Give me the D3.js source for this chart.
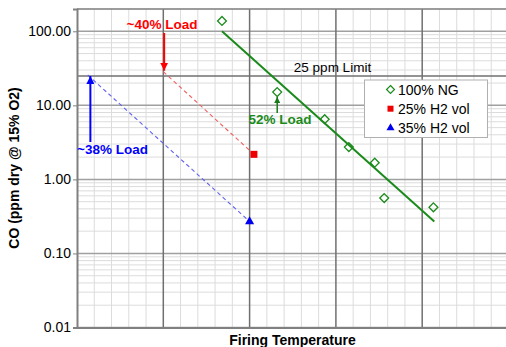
<!DOCTYPE html>
<html><head><meta charset="utf-8">
<script src="https://cdn.jsdelivr.net/npm/d3@7"></script>
<style>body{margin:0;background:#fff}svg{display:block;font-family:Arial,"Liberation Sans",sans-serif}</style>
</head><body><svg id="c" width="506" height="347"></svg>
<script>
// data (x in arbitrary firing-temperature units, y = CO ppm)
const ngX = [1.68, 2.32, 2.87, 3.15, 3.45, 3.56, 4.13];
const ngY = [138, 15.1, 6.5, 2.73, 1.68, 0.56, 0.42];
const ngTrendX = [1.68, 4.14];
const ngTrendY = [100, 0.27];
const h25X = [2.05];
const h25Y = [2.18];
const h25LineX = [1.0, 2.05];
const h25LineY = [28.5, 2.18];
const h35X = [2.0];
const h35Y = [0.27];
const h35LineX = [0.124, 2.0];
const h35LineY = [25.7, 0.27];
const limit = 25;
const yTicks = [0.01, 0.1, 1, 10, 100];
const legendLabels = ["100% NG", "25% H2 vol", "35% H2 vol"];

const svg = d3.select("#c");
const L = 77, R = 508.5, T = 9, B = 327.5;
const x = d3.scaleLinear().domain([0, 5]).range([L, R]);
const y = d3.scaleLog().domain([0.01, 200]).range([B, T]);

const g = svg.append("g");
const minorX = d3.range(0, 5.001, 0.2).filter(v => Math.abs(v - Math.round(v)) > 1e-6);
g.selectAll(".mvx").data(minorX).join("line")
  .attr("x1", d => x(d)).attr("x2", d => x(d)).attr("y1", T).attr("y2", B)
  .attr("stroke", "#dcdcdc").attr("stroke-width", 1);
const minorY = [];
[0.01, 0.1, 1, 10, 100].forEach(dec => { for (let k = 2; k <= 9; k++) { const v = dec * k; if (v <= 200) minorY.push(v); } });
g.selectAll(".mhy").data(minorY).join("line")
  .attr("x1", L).attr("x2", R).attr("y1", d => y(d)).attr("y2", d => y(d))
  .attr("stroke", "#dcdcdc").attr("stroke-width", 1);
g.selectAll(".My").data(yTicks).join("line")
  .attr("x1", L).attr("x2", R).attr("y1", d => y(d)).attr("y2", d => y(d))
  .attr("stroke", "#a0a0a0").attr("stroke-width", 1.5);
g.selectAll(".Mx").data([1, 2, 3, 4]).join("line")
  .attr("x1", d => x(d)).attr("x2", d => x(d)).attr("y1", T).attr("y2", B)
  .attr("stroke", "#707070").attr("stroke-width", 1.5);
g.append("line").attr("x1", L).attr("x2", R).attr("y1", T).attr("y2", T).attr("stroke", "#808080").attr("stroke-width", 1.5);
g.append("line").attr("x1", L).attr("x2", R).attr("y1", y(limit)).attr("y2", y(limit))
  .attr("stroke", "#707070").attr("stroke-width", 1.5);

const yAxis = d3.axisLeft(y).tickValues(yTicks).tickFormat(d3.format(".2f")).tickSize(4).tickPadding(2);
const ya = svg.append("g").attr("transform", `translate(${L},0)`).call(yAxis);
ya.select(".domain").attr("stroke", "#808080").attr("stroke-width", 2);
ya.selectAll(".tick line").attr("stroke", "#808080");
ya.selectAll("text").attr("font-size", 14).attr("fill", "#000");
const xAxis = d3.axisBottom(x).tickValues([]).tickSizeOuter(0);
const xa = svg.append("g").attr("transform", `translate(0,${B})`).call(xAxis);
xa.select(".domain").attr("stroke", "#808080").attr("stroke-width", 2);

const line = d3.line().x(d => x(d[0])).y(d => y(d[1]));
svg.append("path").attr("d", line(d3.zip(h25LineX, h25LineY))).attr("fill", "none")
  .attr("stroke", "#f06060").attr("stroke-width", 1.1).attr("stroke-dasharray", "4,3");
svg.append("path").attr("d", line(d3.zip(h35LineX, h35LineY))).attr("fill", "none")
  .attr("stroke", "#6060f0").attr("stroke-width", 1.1).attr("stroke-dasharray", "4,3");
svg.append("path").attr("d", line(d3.zip(ngTrendX, ngTrendY))).attr("fill", "none")
  .attr("stroke", "#1a8a1a").attr("stroke-width", 2);

const diamond = d3.symbol().type(d3.symbolDiamond2).size(50);
svg.selectAll(".ng").data(d3.zip(ngX, ngY)).join("path")
  .attr("d", diamond).attr("transform", d => `translate(${x(d[0])},${y(d[1])})`)
  .attr("fill", "none").attr("stroke", "#1a8a1a").attr("stroke-width", 1.3);
svg.selectAll(".h25").data(d3.zip(h25X, h25Y)).join("rect")
  .attr("x", d => x(d[0]) - 3.5).attr("y", d => y(d[1]) - 3.5).attr("width", 7).attr("height", 7).attr("fill", "#ee0000");
const tri = d3.symbol().type(d3.symbolTriangle).size(36);
svg.selectAll(".h35").data(d3.zip(h35X, h35Y)).join("path")
  .attr("d", tri).attr("transform", d => `translate(${x(d[0])},${y(d[1])})`).attr("fill", "#0000ee");

const defs = svg.append("defs");
function marker(id, color) {
  defs.append("marker").attr("id", id).attr("viewBox", "0 0 10 10").attr("refX", 10).attr("refY", 5)
    .attr("markerWidth", 4).attr("markerHeight", 4).attr("orient", "auto")
    .append("path").attr("d", "M0,0L10,5L0,10Z").attr("fill", color);
}
marker("ar", "#ff0000"); marker("ab", "#0000ff"); marker("ag", "#1a7a1a");
function arrow(x1, y1, x2, y2, color, m, w) {
  svg.append("line").attr("x1", x1).attr("y1", y1).attr("x2", x2).attr("y2", y2)
    .attr("stroke", color).attr("stroke-width", w).attr("marker-end", `url(#${m})`);
}
arrow(x(1.01), 33, x(1.01), y(h25LineY[0]) - 1, "#ff0000", "ar", 2);
arrow(x(0.155), 142, x(0.155), y(h35LineY[0]) + 1, "#0000ff", "ab", 2);
arrow(x(2.32), 113, x(2.32), 97, "#1a7a1a", "ag", 1.5);

svg.append("text").attr("x", 162).attr("y", 29).attr("text-anchor", "middle").attr("font-size", 13.5)
  .attr("font-weight", "bold").attr("fill", "#ff0000").text("~40% Load");
svg.append("text").attr("x", 77).attr("y", 154).attr("text-anchor", "start").attr("font-size", 13.5)
  .attr("font-weight", "bold").attr("fill", "#0000ff").text("~38% Load");
svg.append("text").attr("x", 280).attr("y", 124).attr("text-anchor", "middle").attr("font-size", 13.5)
  .attr("font-weight", "bold").attr("fill", "#1a8a1a").text("52% Load");
svg.append("text").attr("x", 332.5).attr("y", 72).attr("text-anchor", "middle").attr("font-size", 13.5)
  .attr("fill", "#000").text("25 ppm Limit");

const lg = svg.append("g");
lg.append("rect").attr("x", 364.5).attr("y", 80).attr("width", 123).attr("height", 57.5)
  .attr("fill", "#fff").attr("stroke", "#b0b0b0").attr("stroke-width", 1);
const rows = [89.5, 108.7, 128];
lg.append("path").attr("d", d3.symbol().type(d3.symbolDiamond2).size(40)).attr("transform", `translate(390.5,${rows[0]})`)
  .attr("fill", "none").attr("stroke", "#1a8a1a").attr("stroke-width", 1.2);
lg.append("rect").attr("x", 387.5).attr("y", rows[1] - 3).attr("width", 6).attr("height", 6).attr("fill", "#ee0000");
lg.append("path").attr("d", d3.symbol().type(d3.symbolTriangle).size(28)).attr("transform", `translate(390.5,${rows[2]})`).attr("fill", "#0000ee");
lg.selectAll(".lt").data(legendLabels).join("text")
  .attr("x", 398).attr("y", (d, i) => rows[i] + 5).attr("font-size", 14).attr("fill", "#000").text(d => d);

svg.append("text").attr("x", 292.5).attr("y", 345).attr("text-anchor", "middle").attr("font-size", 14)
  .attr("font-weight", "bold").text("Firing Temperature");
svg.append("text").attr("transform", `translate(19,168) rotate(-90)`).attr("text-anchor", "middle")
  .attr("font-size", 14).attr("font-weight", "bold").text("CO (ppm dry @ 15% O2)");
</script></body></html>
